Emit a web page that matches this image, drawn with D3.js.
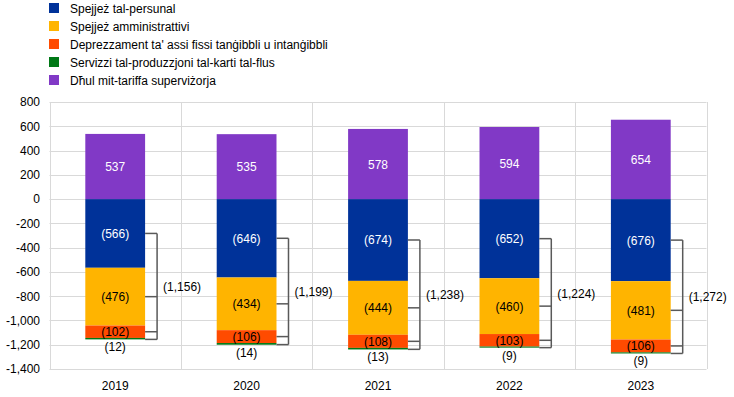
<!DOCTYPE html>
<html>
<head>
<meta charset="utf-8">
<script src="https://cdn.jsdelivr.net/npm/d3@7"></script>
<style>
  body { margin: 0; background: #fff; }
  svg { font-family: "Liberation Sans", Arial, sans-serif; }
</style>
</head>
<body>
<svg id="chart" width="734" height="397"></svg>
<script>
var years = ["2019", "2020", "2021", "2022", "2023"];
var staff = [566, 646, 674, 652, 676];
var admin = [476, 434, 444, 460, 481];
var deprec = [102, 106, 108, 103, 106];
var banknote = [12, 14, 13, 9, 9];
var income = [537, 535, 578, 594, 654];
var totals = [1156, 1199, 1238, 1224, 1272];
var yTicks = [800, 600, 400, 200, 0, -200, -400, -600, -800, -1000, -1200, -1400];

var legendNames = [
  "Spejjeż tal-persunal",
  "Spejjeż amministrattivi",
  "Deprezzament ta' assi fissi tanġibbli u intanġibbli",
  "Servizzi tal-produzzjoni tal-karti tal-flus",
  "Dħul mit-tariffa superviżorja"
];
var colors = ["#003299", "#ffb400", "#ff4b00", "#007816", "#8139c6"];

var loc = d3.formatLocale({decimal: ".", thousands: ",", grouping: [3], currency: ["", ""], minus: "-"});
var fmt = loc.format(",");

var svg = d3.select("#chart");
var plotL = 49.5, plotR = 706.5, plotT = 102, plotB = 369;

var x = d3.scaleBand().domain(years).range([plotL, plotR]).paddingInner(0).paddingOuter(0);
var y = d3.scaleLinear().domain([-1400, 800]).range([plotB, plotT]);
var barW = x.bandwidth() * 0.455;

// grid
svg.append("g").selectAll("line").data(yTicks).enter().append("line")
  .attr("x1", plotL).attr("x2", plotR)
  .attr("y1", d => Math.round(y(d)) + 0.5).attr("y2", d => Math.round(y(d)) + 0.5)
  .attr("stroke", "#d9d9d9").attr("stroke-width", 1);
var bounds = years.map(d => x(d)).concat([plotR]);
svg.append("g").selectAll("line").data(bounds).enter().append("line")
  .attr("x1", d => Math.round(d) + 0.5).attr("x2", d => Math.round(d) + 0.5)
  .attr("y1", plotT).attr("y2", plotB)
  .attr("stroke", "#d9d9d9").attr("stroke-width", 1);

// y axis labels
var yAxis = d3.axisLeft(y).tickValues(yTicks).tickFormat(fmt).tickSize(0).tickPadding(0);
svg.append("g").attr("transform", "translate(40,0)").call(yAxis)
  .call(g => g.select(".domain").remove())
  .selectAll("text").attr("font-size", 12).attr("fill", "#000")
  .attr("font-family", "Liberation Sans, Arial, sans-serif");

// x axis labels
var xAxis = d3.axisBottom(x).tickSize(0).tickPadding(0);
svg.append("g").attr("transform", "translate(0," + (plotB + 12) + ")").call(xAxis)
  .call(g => g.select(".domain").remove())
  .selectAll("text").attr("font-size", 12).attr("fill", "#000")
  .attr("font-family", "Liberation Sans, Arial, sans-serif");

// stacked segments
var series = [staff, admin, deprec, banknote];
var rows = years.map(function(yr, i) {
  var segs = [], acc = 0;
  series.forEach(function(s, k) {
    segs.push({year: yr, k: k, v: s[i], y0: -acc, y1: -(acc + s[i])});
    acc += s[i];
  });
  segs.push({year: yr, k: 4, v: income[i], y0: income[i], y1: 0});
  return segs;
});
var segData = rows.flat();

var bx = d => x(d) + (x.bandwidth() - barW) / 2;

svg.append("g").selectAll("rect").data(segData).enter().append("rect")
  .attr("x", d => bx(d.year))
  .attr("width", barW)
  .attr("y", d => y(d.y0))
  .attr("height", d => y(d.y1) - y(d.y0))
  .attr("fill", d => colors[d.k]);

// segment labels
var labelled = segData.filter(d => d.k != 3);
svg.append("g").selectAll("text").data(labelled).enter().append("text")
  .attr("x", d => bx(d.year) + barW / 2)
  .attr("y", d => y((d.y0 + d.y1) / 2) + 4.5)
  .attr("text-anchor", "middle")
  .attr("font-size", 12)
  .attr("fill", d => (d.k == 0 || d.k == 4) ? "#fff" : "#000")
  .text(d => d.k == 4 ? fmt(d.v) : "(" + fmt(d.v) + ")");

// banknote labels under bars
svg.append("g").selectAll("text").data(segData.filter(d => d.k == 3)).enter().append("text")
  .attr("x", d => bx(d.year) + barW / 2)
  .attr("y", d => y(d.y1) + 12)
  .attr("text-anchor", "middle")
  .attr("font-size", 12)
  .attr("fill", "#000")
  .text(d => "(" + fmt(d.v) + ")");

// brackets with totals
var br = svg.append("g");
years.forEach(function(yr, i) {
  var x0 = bx(yr) + barW, x1 = x0 + 12;
  var segs = rows[i];
  var mids = [0, 1, 2].map(k => y((segs[k].y0 + segs[k].y1) / 2));
  var yb = y(-totals[i]);
  var g = br.append("g").attr("stroke", "#595959").attr("stroke-width", 1.5).attr("fill", "none");
  g.append("line").attr("x1", x1).attr("x2", x1).attr("y1", mids[0]).attr("y2", yb);
  mids.concat([yb]).forEach(function(m) {
    g.append("line").attr("x1", x0).attr("x2", x1).attr("y1", m).attr("y2", m);
  });
  br.append("text")
    .attr("x", x1 + 6)
    .attr("y", (mids[0] + yb) / 2 + 4.5)
    .attr("font-size", 12)
    .attr("fill", "#000")
    .text("(" + fmt(totals[i]) + ")");
});

// legend
var lg = svg.append("g").selectAll("g").data(legendNames).enter().append("g")
  .attr("transform", (d, i) => "translate(49," + (3 + i * 18) + ")");
lg.append("rect").attr("width", 10).attr("height", 10).attr("fill", (d, i) => colors[i]);
lg.append("text").attr("x", 21).attr("y", 9.5).attr("font-size", 12).attr("fill", "#000").text(d => d);
</script>
</body>
</html>
